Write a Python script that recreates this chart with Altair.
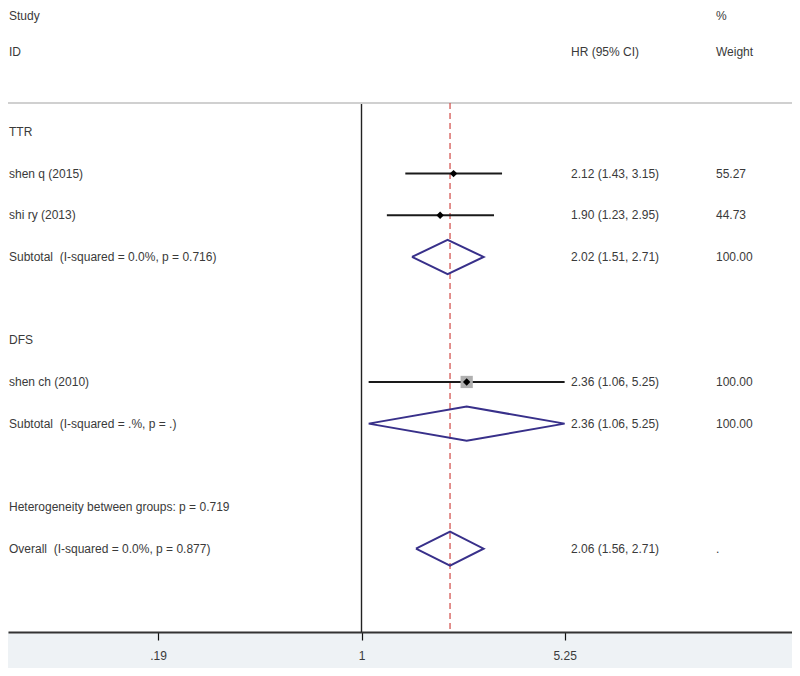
import altair as alt
import pandas as pd

# ---- data ----
NB = "\u00a0"
row_labels = ["TTR", "shen q (2015)", "shi ry (2013)",
              "Subtotal" + NB + " (I-squared = 0.0%, p = 0.716)",
              "DFS", "shen ch (2010)", "Subtotal" + NB + " (I-squared = .%, p = .)",
              "Heterogeneity between groups: p = 0.719",
              "Overall" + NB + " (I-squared = 0.0%, p = 0.877)"]
row_index = [0, 1, 2, 3, 5, 6, 7, 9, 10]

study_names = ["shen q (2015)", "shi ry (2013)", "shen ch (2010)"]
study_rows = [1, 2, 6]
study_hr = [2.12, 1.90, 2.36]
study_lo = [1.43, 1.23, 1.06]
study_hi = [3.15, 2.95, 5.25]
study_weight = [55.27, 44.73, 100.00]

pooled_names = ["TTR subtotal", "DFS subtotal", "Overall"]
pooled_rows = [3, 7, 10]
pooled_hr = [2.02, 2.36, 2.06]
pooled_lo = [1.51, 1.06, 1.56]
pooled_hi = [2.71, 5.25, 2.71]

ci_text = ["2.12 (1.43, 3.15)", "1.90 (1.23, 2.95)", "2.02 (1.51, 2.71)",
           "2.36 (1.06, 5.25)", "2.36 (1.06, 5.25)", "2.06 (1.56, 2.71)"]
ci_rows = [1, 2, 3, 6, 7, 10]
weight_text = ["55.27", "44.73", "100.00", "100.00", "100.00", "."]

header_text = ["Study", "ID", "HR (95% CI)", "%", "Weight"]
header_rows = [-2.78, -1.92, -1.92, -2.78, -1.92]
header_col = ["left", "left", "hr", "wt", "wt"]

tick_values = [0.19, 1, 5.25]
overall_hr = 2.06

# ---- tables ----
labels_df = pd.DataFrame({"label": row_labels, "row": row_index})
studies_df = pd.DataFrame({"name": study_names, "row": study_rows, "hr": study_hr,
                           "lo": study_lo, "hi": study_hi, "weight": study_weight})
ci_df = pd.DataFrame({"ci": ci_text, "wt": weight_text, "row": ci_rows})
hdr_df = pd.DataFrame({"t": header_text, "row": header_rows, "col": header_col})

dia_rows = []
half = 0.41
for n, r, e, l, h in zip(pooled_names, pooled_rows, pooled_hr, pooled_lo, pooled_hi):
    pts = [(l, r), (e, r - half), (h, r), (e, r + half), (l, r)]
    for k, (xv, yv) in enumerate(pts):
        dia_rows.append({"name": n, "k": k, "x": xv, "row": yv})
dia_df = pd.DataFrame(dia_rows)

top_row = -0.694
null_df = pd.DataFrame({"x": [1.0], "row": [top_row], "row2": [12.0]})
overall_df = pd.DataFrame({"x": [overall_hr], "row": [top_row], "row2": [12.0]})

FONT = "Liberation Sans"
TXT = "#3a3a3a"
W, H = 784, 624

xscale = alt.Scale(type="log", domain=[0.0558, 33.6], nice=False)
yscale = alt.Scale(domain=[-2.974, 12], reverse=True, nice=False, zero=False)

xaxis = alt.Axis(values=tick_values, title=None, grid=False,
                 labelExpr="datum.value < 0.5 ? '.19' : (datum.value < 2 ? '1' : '5.25')",
                 tickSize=8, tickColor="#111", tickWidth=1.2,
                 domainColor="#333", domainWidth=1.8,
                 labelFont=FONT, labelFontSize=12, labelColor=TXT, labelPadding=10)

Y = alt.Y("row:Q", scale=yscale, axis=None)
X_est = alt.X("x:Q", scale=xscale, axis=xaxis)

# top separator line
top_line = alt.Chart(pd.DataFrame({"row": [top_row]})).mark_rule(
    color="#d0d0d0", strokeWidth=2).encode(
    y=Y, x=alt.value(0), x2=alt.value(W))

null_line = alt.Chart(null_df).mark_rule(color="#222", strokeWidth=1.4).encode(
    x=X_est, y=Y, y2="row2:Q")

overall_line = alt.Chart(overall_df).mark_rule(
    color="#d04a45", strokeWidth=1.2, strokeDash=[6, 4]).encode(
    x=X_est, y=Y, y2="row2:Q")

ci_lines = alt.Chart(studies_df).mark_rule(color="#1a1a1a", strokeWidth=2).encode(
    x=alt.X("lo:Q", scale=xscale, axis=xaxis), x2="hi:Q", y=Y)

boxes = alt.Chart(studies_df).mark_square(color="#b0b0b0", opacity=1).encode(
    x=alt.X("hr:Q", scale=xscale, axis=xaxis), y=Y,
    size=alt.Size("weight:Q", scale=alt.Scale(type="pow", exponent=4,
                                               domain=[0, 100], range=[0, 150]),
                  legend=None))

points = alt.Chart(studies_df).mark_point(shape="diamond", filled=True,
                                          color="#000", size=55, opacity=1).encode(
    x=alt.X("hr:Q", scale=xscale, axis=xaxis), y=Y)

diamonds = alt.Chart(dia_df).mark_line(color="#38308a", strokeWidth=2).encode(
    x=X_est, y=Y, detail="name:N", order="k:Q")

def text_layer(df, field, px):
    return alt.Chart(df).mark_text(
        align="left", baseline="middle", font=FONT, fontSize=12, color=TXT).encode(
        x=alt.value(px), y=Y, text=alt.Text(field + ":N"))

labels = text_layer(labels_df, "label", 1)
ci_labels = text_layer(ci_df, "ci", 563)
wt_labels = text_layer(ci_df, "wt", 708)
hdr_left = text_layer(hdr_df[hdr_df.col == "left"], "t", 1)
hdr_hr = text_layer(hdr_df[hdr_df.col == "hr"], "t", 563)
hdr_wt = text_layer(hdr_df[hdr_df.col == "wt"], "t", 708)

chart = alt.layer(
    null_line, top_line, overall_line, ci_lines, boxes, points, diamonds,
    labels, ci_labels, wt_labels, hdr_left, hdr_hr, hdr_wt
).properties(
    width=W, height=H,
    autosize=alt.AutoSizeParams(type="none"),
    padding={"left": 0, "top": 0, "right": 0, "bottom": 36},
    background="#eef2f5",
).configure_view(fill="white", strokeWidth=0)

chart.save("out.html", embed_options={"renderer": "svg", "actions": False})
